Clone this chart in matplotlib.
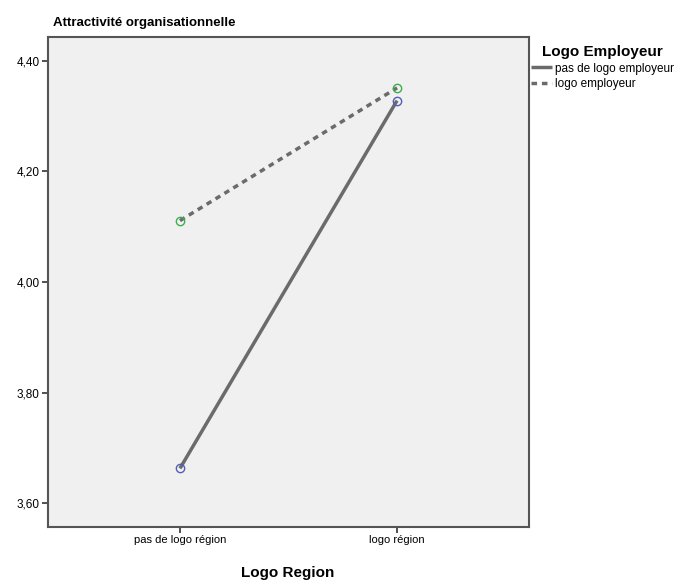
import matplotlib.pyplot as plt

plt.rcParams["font.family"] = ["Liberation Sans", "DejaVu Sans"]

# data
regions = ["pas de logo région", "logo région"]
series_names = ["pas de logo employeur", "logo employeur"]
no_employer_logo = [3.663, 4.328]
employer_logo = [4.111, 4.351]
y_ticks = [3.60, 3.80, 4.00, 4.20, 4.40]
y_tick_labels = ["3,60", "3,80", "4,00", "4,20", "4,40"]

line_color = "#6b6b6b"
x = list(range(len(regions)))

fig = plt.figure(figsize=(6.9, 5.81), dpi=100)
ax = fig.add_axes([48 / 690, 1 - 527 / 581, 481 / 690, 490 / 581])
ax.set_facecolor("#f0f0f0")

ax.plot(x, no_employer_logo, color=line_color, lw=2.5, label=series_names[0],
        solid_capstyle="butt")
ax.plot(x, employer_logo, color=line_color, lw=2.5, ls=(0, (1.6, 1.4)),
        label=series_names[1])
ax.plot(x, no_employer_logo, ls="none", marker="o", ms=6, mfc="none",
        mec="#5060b8", mew=1)
ax.plot(x, employer_logo, ls="none", marker="o", ms=6, mfc="none",
        mec="#3cae50", mew=1)

ax.set_xlim(-0.608, 1.608)
ax.set_ylim(3.557, 4.443)
ax.set_xticks(x)
ax.set_xticklabels(regions, fontsize=8)
ax.set_yticks(y_ticks)
ax.set_yticklabels(y_tick_labels, fontsize=8.5)
ax.tick_params(direction="out", length=4, width=1.2, color="#333333", pad=2)

for s in ax.spines.values():
    s.set_color("#555555")
    s.set_linewidth(1.5)

fig.text(53 / 690, 1 - 23 / 581, "Attractivité organisationnelle",
         fontsize=9.5, fontweight="bold", va="center", ha="left")
fig.text(288 / 690, 1 - 573 / 581, "Logo Region", fontsize=11,
         fontweight="bold", va="center", ha="center")

leg = ax.legend(loc="upper left", bbox_to_anchor=(531 / 690, 1 - 45 / 581),
                bbox_transform=fig.transFigure, frameon=False, fontsize=8.5,
                title="Logo Employeur", handlelength=1.8, handletextpad=0.2,
                borderpad=0, borderaxespad=0, labelspacing=0.3)
leg.get_title().set_fontsize(11)
leg.get_title().set_fontweight("bold")

fig.savefig("out.png", dpi=100)
